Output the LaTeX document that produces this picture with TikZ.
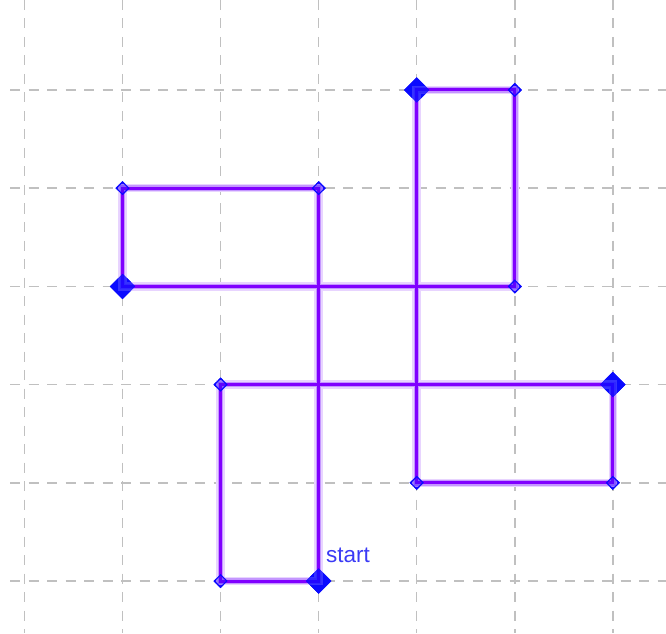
\documentclass[tikz,border=0pt]{standalone}
\usepackage{fontspec}
\setmainfont{Liberation Sans}
\usetikzlibrary{shapes.geometric}
\definecolor{pathviolet}{HTML}{8000FF}
\definecolor{haloviolet}{HTML}{E8D4FF}
\definecolor{halomid}{HTML}{C496FF}
\definecolor{markblue}{HTML}{0A0AFF}
\definecolor{gridgray}{HTML}{C0C0C0}
\definecolor{labelblue}{HTML}{3A3AF5}
\tikzset{
  gridline/.style={gridgray, line width=1.5pt, dash pattern=on 10pt off 8.5pt},
  halo/.style={haloviolet, line width=8.5pt, line join=miter},
  halotwo/.style={halomid, line width=5.5pt, line join=miter},
  route/.style={pathviolet, line width=3pt, line join=miter},
  bigmark/.style={diamond, fill=markblue, draw=markblue, inner sep=0pt, minimum size=25pt},
  smallmark/.style={diamond, fill=markblue!60!pathviolet, draw=markblue, line width=1.2pt, inner sep=0pt, minimum size=13pt},
  lbl/.style={labelblue, font=\fontsize{22.5}{26}\selectfont, inner sep=0pt}
}
\begin{document}
\begin{tikzpicture}[x=1pt,y=1pt]
\useasboundingbox (0,0) rectangle (666,633);
% grid
\foreach \i in {0,...,6} {
  \draw[gridline] ({24.5+98.05*\i},633) -- ({24.5+98.05*\i},0);
}
\foreach \j in {0,...,5} {
  \draw[gridline] (10,{52+98.2*\j}) -- (666,{52+98.2*\j});
}
\begin{scope}[shift={(24.5,52)}, x=98.05pt, y=98.2pt]
\coordinate (p0) at (3,0);
\coordinate (p1) at (2,0);
\coordinate (p2) at (2,2);
\coordinate (p3) at (6,2);
\coordinate (p4) at (6,1);
\coordinate (p5) at (4,1);
\coordinate (p6) at (4,5);
\coordinate (p7) at (5,5);
\coordinate (p8) at (5,3);
\coordinate (p9) at (1,3);
\coordinate (p10) at (1,4);
\coordinate (p11) at (3,4);
\foreach \k in {1,2,4,5,7,8,10,11} { \node[smallmark] (m\k) at (p\k) {}; }
\foreach \k in {0,3,6,9} { \node[bigmark] (m\k) at (p\k) {}; }
\draw[halo] (p0) -- (p1) -- (p2) -- (p3) -- (p4) -- (p5) -- (p6) -- (p7) -- (p8) -- (p9) -- (p10) -- (p11) -- cycle;
\draw[halotwo] (p0) -- (p1) -- (p2) -- (p3) -- (p4) -- (p5) -- (p6) -- (p7) -- (p8) -- (p9) -- (p10) -- (p11) -- cycle;
\draw[route] (p0) -- (p1) -- (p2) -- (p3) -- (p4) -- (p5) -- (p6) -- (p7) -- (p8) -- (p9) -- (p10) -- (p11) -- cycle;
\foreach \k in {0,3,6,9} { \node[bigmark, fill opacity=0.8, draw opacity=0.8] at (p\k) {}; }
\foreach \k in {1,2,4,5,7,8,10,11} { \node[smallmark, fill opacity=0.45] at (p\k) {}; }
\end{scope}
\node[lbl, anchor=base west] (startlbl) at (326,71) {start};
\end{tikzpicture}
\end{document}
